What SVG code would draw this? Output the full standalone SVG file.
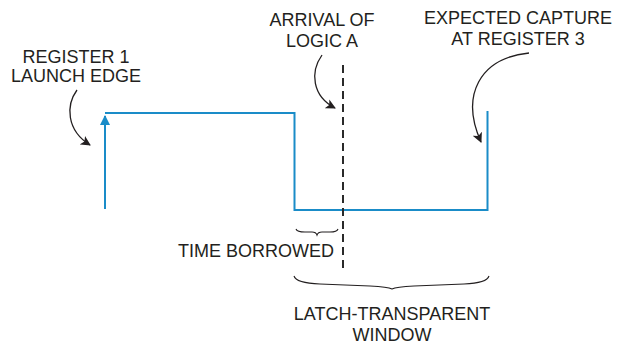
<svg xmlns="http://www.w3.org/2000/svg" width="625" height="345" viewBox="0 0 625 345">
  <style>
    .lbl { font-family: "Liberation Sans", Arial, sans-serif; font-size: 18px; fill: #231f20; text-anchor: middle; }
    .wave { fill: none; stroke: #1a8cc8; stroke-width: 2; }
    .callout { fill: none; stroke: #231f20; stroke-width: 1.3; }
    .brace { fill: none; stroke: #231f20; stroke-width: 1.1; }
  </style>
  <defs>
    <marker id="blackHead" viewBox="0 0 10 10" refX="9" refY="5" markerWidth="10" markerHeight="10" markerUnits="userSpaceOnUse" orient="auto">
      <path d="M0,0 L10,5 L0,10 L2.5,5 Z" fill="#231f20"/>
    </marker>
    <marker id="blueHead" viewBox="0 0 10 10" refX="9" refY="5" markerWidth="14" markerHeight="10" markerUnits="userSpaceOnUse" orient="auto">
      <path d="M0,0 L10,5 L0,10 Z" fill="#1a8cc8"/>
    </marker>
  </defs>

  <!-- clock / latch waveform -->
  <g id="waveform">
    <line class="wave" x1="105" y1="209" x2="105" y2="116" marker-end="url(#blueHead)"/>
    <polyline class="wave" points="105,113 294.5,113 294.5,210 487.5,210 487.5,111"/>
  </g>

  <!-- logic A arrival time -->
  <g id="arrival-marker">
    <line x1="343" y1="65" x2="343" y2="270" stroke="#2a2a2a" stroke-width="2" stroke-dasharray="8,5"/>
  </g>

  <g id="connectors">
    <path class="callout" d="M77,90 C66,105 66,130 90,145" marker-end="url(#blackHead)"/>
    <path class="callout" d="M322,55 C310,72 312,96 335,108" marker-end="url(#blackHead)"/>
    <path class="callout" d="M529,53 C480,58 460,95 481,142" marker-end="url(#blackHead)"/>
  </g>

  <g id="launch-label">
    <text class="lbl" x="76" y="63">REGISTER 1</text>
    <text class="lbl" x="76" y="82">LAUNCH EDGE</text>
  </g>

  <g id="arrival-label">
    <text class="lbl" x="322" y="26">ARRIVAL OF</text>
    <text class="lbl" x="322" y="47">LOGIC A</text>
  </g>

  <g id="capture-label">
    <text class="lbl" x="518" y="24">EXPECTED CAPTURE</text>
    <text class="lbl" x="518" y="45">AT REGISTER 3</text>
  </g>

  <g id="time-borrowed">
    <path class="brace" d="M296,229 Q297,232 305,232 L312,232 Q316,232 317,235 Q318,232 322,232 L330,232 Q337,232 338,229"/>
    <text class="lbl" x="256" y="257">TIME BORROWED</text>
  </g>

  <g id="transparent-window">
    <path class="brace" d="M294,276 Q296,283 320,284 L370,286 Q388,287 392,289 Q396,287 414,286 L464,284 Q487,283 489,276"/>
    <text class="lbl" x="392" y="320">LATCH-TRANSPARENT</text>
    <text class="lbl" x="392" y="341">WINDOW</text>
  </g>
</svg>
